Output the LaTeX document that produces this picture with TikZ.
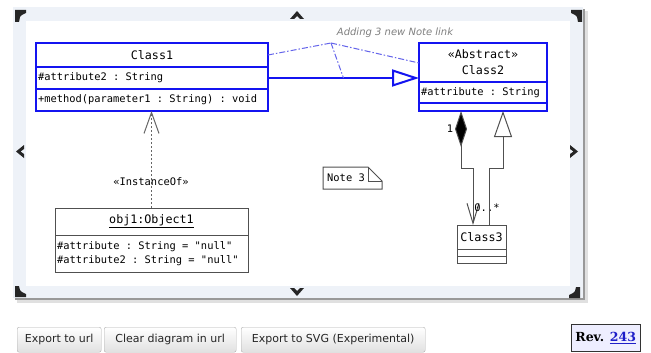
\documentclass[tikz,border=0pt]{standalone}
\usepackage{fontspec}
\setmainfont{DejaVu Sans}
\newfontfamily\umlmono{DejaVu Sans Mono}
\newfontfamily\revserif{DejaVu Serif}
\usetikzlibrary{arrows.meta,calc}

\definecolor{umlblue}{RGB}{20,20,240}
\definecolor{notelink}{RGB}{100,100,235}
\definecolor{umlgray}{RGB}{80,80,80}
\definecolor{panelbg}{RGB}{238,242,248}
\definecolor{btnborder}{RGB}{175,175,175}
\definecolor{revbg}{RGB}{238,238,255}
\definecolor{revlink}{RGB}{30,30,200}

% one full character cell of monospaced space
\newcommand\ms{\hbox to 0.602em{}}

\tikzset{
  titlefont/.style={font=\umlmono\fontsize{11.7}{16}\selectfont},
  bodyfont/.style={font=\umlmono\fontsize{10.4}{14}\selectfont},
  bluecomp/.style={draw=umlblue, line width=2pt, fill=white, inner xsep=2pt, inner ysep=0pt, outer sep=0pt},
  graycomp/.style={draw=umlgray, line width=1pt, fill=white, inner xsep=2pt, inner ysep=0pt, outer sep=0pt},
  gline/.style={draw=umlgray, line width=1pt},
  notelinkline/.style={draw=notelink, line width=1pt, dash pattern=on 6pt off 2pt on 1.5pt off 2pt},
  button/.style={draw=btnborder, rounded corners=2pt, top color=white, bottom color=black!12,
    minimum height=25pt, inner sep=0pt, text=black!85, font=\fontsize{11}{13}\selectfont},
  navmark/.style={fill=black!85}
}

\begin{document}
\begin{tikzpicture}[x=1pt,y=-1pt]
\useasboundingbox (0,0) rectangle (651,353);

% editor panel with drop shadow
\fill[black!12] (17,11) rectangle (588,303);
\fill[black!40] (15,9) rectangle (585,300);
\fill[panelbg] (13,7) rectangle (583,298);
\fill[white] (26,21) rectangle (570,286);

% scroll / resize marks around the canvas
\fill[navmark] (15,10) -- (26,10) -- (26,13) -- (22,15) -- (20,17) -- (19,22) -- (15,22) -- cycle;
\fill[navmark] (582,10) -- (571,10) -- (571,13) -- (575,15) -- (577,17) -- (578,22) -- (582,22) -- cycle;
\fill[navmark] (15,297) -- (26,297) -- (26,294) -- (22,292) -- (20,290) -- (19,286) -- (15,286) -- cycle;
\fill[navmark] (580,298) -- (569,298) -- (569,295) -- (573,293) -- (575,291) -- (576,287) -- (580,287) -- cycle;
\fill[navmark] (290,19) -- (297,11) -- (304,19) -- (300,19) -- (297,16) -- (294,19) -- cycle;
\fill[navmark] (290,288) -- (297,296) -- (304,288) -- (300,288) -- (297,291) -- (294,288) -- cycle;
\fill[navmark] (24,145) -- (16,151.5) -- (24,158) -- (24,154) -- (20.5,151.5) -- (24,149) -- cycle;
\fill[navmark] (570,145) -- (578,151.5) -- (570,158) -- (570,154) -- (573.5,151.5) -- (570,149) -- cycle;

% Class1
\node[bluecomp, titlefont, minimum width=232pt, minimum height=24pt, anchor=north west] (c1h) at (36,43) {Class1};
\node[bluecomp, bodyfont, text width=228pt, align=left, minimum height=22pt, anchor=north] (c1a) at (c1h.south) {\#attribute2\ms:\ms String};
\node[bluecomp, bodyfont, text width=228pt, align=left, minimum height=22pt, anchor=north] (c1m) at (c1a.south) {+method(parameter1\ms:\ms String)\ms:\ms void};

% Class2
\node[bluecomp, titlefont, align=center, minimum width=128pt, minimum height=39pt, anchor=north west] (c2h) at (419,43) {«Abstract»\\Class2};
\node[bluecomp, bodyfont, text width=124pt, align=left, minimum height=21pt, anchor=north] (c2a) at (c2h.south) {\#attribute\ms:\ms String};
\node[bluecomp, minimum width=128pt, minimum height=8pt, inner sep=0pt, anchor=north] (c2o) at (c2a.south) {};

% obj1:Object1
\node[graycomp, titlefont, minimum width=193pt, minimum height=27pt, anchor=north west] (o1h) at (55,208) {\underline{obj1:Object1}};
\node[graycomp, bodyfont, text width=189pt, align=left, minimum height=37pt, anchor=north] (o1a) at (o1h.south)
  {\#attribute\ms:\ms String\ms=\ms"null"\\\#attribute2\ms:\ms String\ms=\ms"null"};

% Class3
\node[graycomp, titlefont, minimum width=49pt, minimum height=24pt, inner xsep=0pt, anchor=north west] (c3h) at (457,225) {Class3};
\node[graycomp, minimum width=49pt, minimum height=7pt, inner sep=0pt, anchor=north] (c3a) at (c3h.south) {};
\node[graycomp, minimum width=49pt, minimum height=7pt, inner sep=0pt, anchor=north] (c3o) at (c3a.south) {};

% Note 3
\draw[gline, fill=white] (323,167) -- (368,167) -- (382,181) -- (382,189) -- (323,189) -- cycle;
\draw[gline] (368,167) -- (368,181) -- (382,181);
\node[bodyfont, inner sep=0pt] (n3) at (346,178) {Note\ms 3};

% generalization Class1 -> Class2
\draw[draw=umlblue, line width=2pt, -{Triangle[length=27pt, width=17pt, fill=white]}]
  (c1a.east) -- (c1a.east -| c2h.west) coordinate[pos=0.5] (gmid);

% note link
\coordinate (nl) at (331,43);
\draw[notelinkline] ($(c1h.north east)+(0,12)$) -- (nl);
\draw[notelinkline] (nl) -- ($(c2h.north west)+(0,20)$);
\draw[notelinkline] (nl) -- (gmid);
\node[font=\itshape\fontsize{10}{12}\selectfont, text=black!50, inner sep=0pt] (nlabel) at (395,33) {Adding 3 new Note link};

% instance-of link
\draw[draw=black!60, line width=1pt, dash pattern=on 2pt off 2pt, -{Straight Barb[length=21pt, width=15pt]}]
  (o1h.north) -- (o1h.north |- c1m.south);
\node[bodyfont, inner sep=0pt] (inst) at (151,182) {«InstanceOf»};

% composition Class2 <>-> Class3
\draw[gline, {Diamond[length=36pt, width=12pt, fill=black]}-{Straight Barb[length=20pt, width=12pt]}]
  ($(c2o.south)+(-22,0)$) |- ($(c3h.north)+(-8.5,-57)$) -- ($(c3h.north)+(-8.5,0)$);
\node[bodyfont, inner sep=0pt] (m1) at (450,129) {1};
\node[bodyfont, inner sep=0pt] (m2) at (487,208) {0..*};

% generalization Class3 -> Class2
\draw[gline, -{Triangle[length=26pt, width=18pt, fill=white]}]
  ($(c3h.north)+(7.5,0)$) |- ($(c2o.south)+(20,57)$) -- ($(c2o.south)+(20,0)$);

% page buttons
\node[button, minimum width=84pt, anchor=north west] (b1) at (17,327) {Export to url};
\node[button, minimum width=132pt, anchor=north west] (b2) at (104,327) {Clear diagram in url};
\node[button, minimum width=184pt, anchor=north west] (b3) at (241,327) {Export to SVG (Experimental)};

% revision badge
\node[draw=black!80, fill=revbg, minimum width=69pt, minimum height=27pt, inner sep=0pt,
      font=\revserif\bfseries\fontsize{12.5}{14}\selectfont, anchor=north west] (rev) at (571,324)
  {Rev. \textcolor{revlink}{\underline{243}}};
\end{tikzpicture}
\end{document}
